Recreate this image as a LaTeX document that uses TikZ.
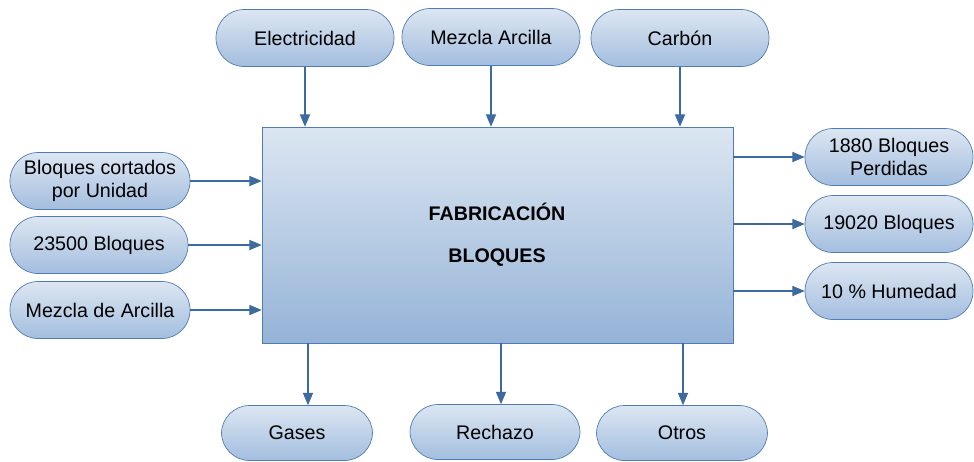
\documentclass[tikz,border=0pt]{standalone}
\usepackage{fontspec}
\setmainfont{Liberation Sans}
\usetikzlibrary{arrows}
\definecolor{lineblue}{HTML}{4F7CB3}
\definecolor{arrowblue}{HTML}{3D6AA0}
\definecolor{topfill}{HTML}{DCE6F2}
\definecolor{botfill}{HTML}{A3BEDF}
\definecolor{boxbot}{HTML}{95B3D7}
\tikzstyle{flujo} = [rectangle, rounded corners=0.56cm, minimum width=3.56cm, minimum height=1.14cm, text centered, align=center, draw=lineblue, top color=topfill, bottom color=botfill, font=\fontsize{11.2}{13.5}\selectfont]
\tikzstyle{proceso} = [rectangle, minimum width=9.42cm, minimum height=4.32cm, draw=lineblue, top color=topfill, bottom color=boxbot]
\tikzstyle{titulo} = [font=\fontsize{11.2}{13}\selectfont\bfseries]
\tikzstyle{arrow} = [semithick, draw=arrowblue, -triangle 45]

\begin{document}
\begin{tikzpicture}[x=0.02cm, y=-0.02cm]
    \useasboundingbox (0,0) rectangle (974,461);
    \node [proceso] at (497.5,235) (fab) {};
    \node [titulo] at (497,212) (fab1) {FABRICACIÓN};
    \node [titulo] at (497,258) (fab2) {BLOQUES};

    \node [flujo] at (305,38) (elec) {Electricidad};
    \node [flujo] at (491,37) (mezcla) {Mezcla Arcilla};
    \node [flujo] at (680,38) (carbon) {Carbón};

    \node [flujo, minimum width=3.6cm] at (100,181) (cortados) {Bloques cortados\\por Unidad};
    \node [flujo, minimum width=3.56cm] at (99,245) (entrada) {23500 Bloques};
    \node [flujo, minimum width=3.6cm] at (100,310) (arcilla) {Mezcla de Arcilla};

    \node [flujo, minimum width=3.36cm] at (889,157) (perdidas) {1880 Bloques\\Perdidas};
    \node [flujo, minimum width=3.36cm] at (889,224) (salida) {19020 Bloques};
    \node [flujo, minimum width=3.36cm] at (889,291) (humedad) {10 \% Humedad};

    \node [flujo, minimum width=3.02cm, minimum height=1.1cm] at (297,433) (gases) {Gases};
    \node [flujo, minimum width=3.4cm, minimum height=1.1cm] at (495,432) (rechazo) {Rechazo};
    \node [flujo, minimum width=3.42cm, minimum height=1.1cm] at (682,433) (otros) {Otros};

    \draw [arrow] (elec) -- (elec |- fab.north);
    \draw [arrow] (mezcla) -- (mezcla |- fab.north);
    \draw [arrow] (carbon) -- (carbon |- fab.north);
    \draw [arrow] (cortados) -- (cortados -| fab.west);
    \draw [arrow] (entrada) -- (entrada -| fab.west);
    \draw [arrow] (arcilla) -- (arcilla -| fab.west);
    \draw [arrow] (fab.east |- perdidas) -- (perdidas);
    \draw [arrow] (fab.east |- salida) -- (salida);
    \draw [arrow] (fab.east |- humedad) -- (humedad);
    \draw [arrow] ([xshift=0.22cm]gases.north |- fab.south) -- ([xshift=0.22cm]gases.north);
    \draw [arrow] ([xshift=0.12cm]rechazo.north |- fab.south) -- ([xshift=0.12cm]rechazo.north);
    \draw [arrow] ([xshift=0.02cm]otros.north |- fab.south) -- ([xshift=0.02cm]otros.north);
\end{tikzpicture}
\end{document}
